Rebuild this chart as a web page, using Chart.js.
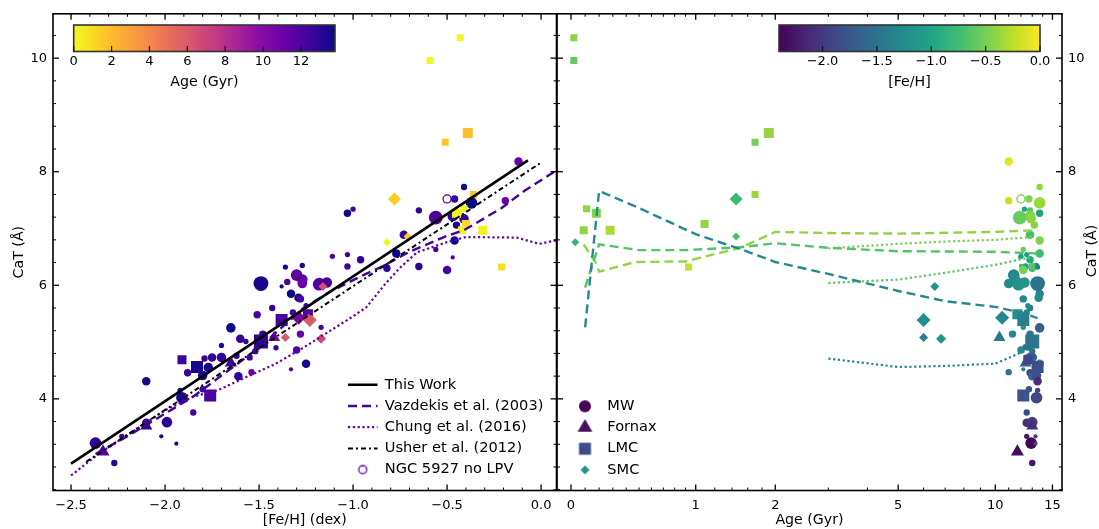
<!DOCTYPE html>
<html><head><meta charset="utf-8">
<style>html,body{margin:0;padding:0;background:#fff;overflow:hidden}canvas{position:absolute;left:0;top:0}</style>
<script src="https://cdn.jsdelivr.net/npm/chart.js@4/dist/chart.umd.js"></script>
</head><body>
<canvas id="left" width="1099" height="529"></canvas>
<canvas id="right" width="1099" height="529"></canvas>
<script>
// ---------- data ----------
const mwFeH=[-0.12,-0.41,-0.19,-0.46,-0.37,-1.0,-0.65,-1.03,-0.56,-0.47,-0.41,-0.45,-0.73,-0.46,-0.56,-0.77,-0.47,-0.96,-1.11,-1.03,-1.27,-1.03,-0.83,-0.82,-0.65,-0.5,-1.3,-1.27,-1.27,-1.35,-1.36,-1.38,-1.49,-1.18,-1.14,-1.33,-1.29,-1.28,-1.43,-1.51,-1.32,-1.25,-1.65,-1.17,-1.48,-1.28,-1.6,-1.57,-1.7,-1.41,-1.3,-1.52,-1.62,-1.55,-1.75,-1.79,-1.7,-1.25,-1.77,-1.33,-1.54,-1.88,-1.61,-1.8,-2.1,-1.8,-1.92,-1.91,-1.85,-2.1,-1.99,-2.23,-2.02,-2.37,-1.94,-2.27,-1.51];
const mwCaT=[8.18,7.73,7.49,7.52,7.45,7.34,7.32,7.27,7.19,7.22,7.17,7.06,6.89,6.79,6.63,6.56,6.49,6.45,6.51,6.54,6.35,6.33,6.34,6.30,6.33,6.27,6.18,6.10,6.03,6.06,6.32,5.98,6.03,6.02,6.05,5.85,5.78,5.76,5.6,5.48,5.52,5.64,5.25,5.26,5.14,5.14,5.06,5.01,4.94,4.90,4.86,4.84,4.76,4.73,4.73,4.71,4.73,4.62,4.55,4.52,4.47,4.46,4.4,4.41,4.31,4.17,4.15,4.02,3.76,3.58,3.59,3.34,3.34,3.22,3.21,2.87,4.91];
const mwAge=[11.0,13.7,11.0,12.7,13.7,12.3,12.8,13.7,11.9,12.8,12.9,13.2,12.8,13.7,12.2,13.7,11.9,12.8,12.0,12.5,13.4,12.4,12.0,13.0,13.0,12.2,11.4,11.5,11.0,12.3,13.5,13.5,13.5,11.8,12.3,13.7,13.6,12.2,12.8,12.0,12.5,12.6,13.7,12.2,12.8,11.3,12.8,13.0,13.0,12.7,12.0,13.0,12.8,12.5,13.0,12.7,13.0,13.7,13.5,12.2,11.0,12.8,13.0,13.4,13.5,12.7,13.5,13.4,12.5,12.5,13.0,12.5,13.3,12.9,13.3,13.0,12.4];
const mwSize=[4,3,3.5,3.5,5.5,2.5,3,3.5,6.5,5,4.5,3.5,4,4,2.5,4,2,3.5,2.5,2.5,2.5,3,2,3.5,3.5,4,5.5,5,4.5,3,2.5,2,7,6,5,4,4,3.5,3,3.5,3,2.5,4.5,2.5,3.5,3.5,4,2.5,2.5,2.5,3.5,3,3,3,4,3,4.5,4,4.5,2,3,3.5,4,4.5,4,3,2.5,5.5,3,4,5,2.5,2,5.5,2,3,3];

const fornaxFeH=[-2.33,-2.1,-1.65,-1.42];
const fornaxCaT=[3.07,3.52,4.63,5.08];
const fornaxAge=[11.7,13.0,12.4,10.3];
const fornaxSize=[7.5,7,7,7];

const lmcFeH=[-0.43,-0.59,-0.39,-0.51,-0.36,-0.41,-0.45,-0.4,-0.42,-0.31,-0.21,-1.24,-1.38,-1.49,-1.91,-1.83,-1.76];
const lmcCaT=[10.36,9.96,8.68,8.52,7.6,7.35,7.27,7.08,6.97,6.97,6.32,5.49,5.39,5.01,4.69,4.56,4.06];
const lmcAge=[0.02,0.02,1.9,1.7,1.7,0.11,0.18,1.09,0.09,0.28,0.93,11.7,12.2,13.0,12.6,13.5,12.2];
const lmcSize=[3.5,3.5,5,3.5,3.5,3.5,4.5,4,4,4.5,3.5,5,6,7,4.5,6,6];

const smcFeH=[-0.78,-0.82,-0.71,-1.23,-1.36,-1.17,-1.16,-1.29];
const smcCaT=[7.52,6.76,6.86,5.39,5.08,5.06,5.98,5.43];
const smcAge=[1.45,0.03,1.45,6.0,6.0,6.8,6.5,10.5];
const smcSize=[6.5,4,4,7,4.5,5,4.5,7];

const ngcFeH=[-0.5], ngcCaT=[7.52], ngcAge=[12];

const thisWorkFeH=[-2.5,-0.07], thisWorkCaT=[2.86,8.2];
const usherFeH=[-2.42,-0.005], usherCaT=[2.89,8.15];
const vazFeH=[-2.37,-2.19,-2.04,-1.85,-1.72,-1.59,-1.5,-1.26,-1.12,-0.97,-0.84,-0.7,-0.5,-0.41,-0.21,-0.09,0.08];
const vazCaT=[3.03,3.36,3.66,4.04,4.36,4.68,4.9,5.61,5.89,6.14,6.34,6.59,6.87,6.97,7.36,7.66,8.02];
const chungFeH=[-2.5,-2.35,-2.19,-2,-1.85,-1.72,-1.55,-1.41,-1.26,-1.03,-0.93,-0.83,-0.75,-0.66,-0.5,-0.4,-0.13,-0.01,0.08];
const chungCaT=[2.65,3.04,3.38,3.8,4.04,4.15,4.41,4.62,4.91,5.39,5.61,6.02,6.31,6.58,6.76,6.85,6.84,6.73,6.79];

const sspAgeA=[0.1,0.2,0.5,1,1.5,2,3,5,7,10,12,13.5];
const sspCaTTeal=[5.26,7.66,7.36,6.9,6.64,6.41,6.2,5.9,5.72,5.62,5.52,5.42];
const sspAgeB=[0.1,0.2,0.5,0.9,1.5,2,3,5,10,13.5];
const sspCaTGreen=[5.96,6.72,6.62,6.62,6.67,6.74,6.66,6.6,6.59,6.56];
const sspAgeC=[0.09,0.18,0.2,0.47,0.9,1.5,2,3,5,10,13.5];
const sspCaTLime=[6.72,6.38,6.24,6.41,6.42,6.66,6.94,6.92,6.91,6.94,6.97];
const dotAge=[3,5,7,10,13];
const dotCaTUpper=[6.65,6.73,6.77,6.8,6.85];
const dotCaTMiddle=[6.04,6.1,6.22,6.36,6.5];
const dotCaTLower=[4.71,4.56,4.58,4.62,4.9];

const xLeftTicks=[-2.5,-2,-1.5,-1,-0.5,0];
const xLeftMinor=[-2.4,-2.3,-2.2,-2.1,-1.9,-1.8,-1.7,-1.6,-1.4,-1.3,-1.2,-1.1,-0.9,-0.8,-0.7,-0.6,-0.4,-0.3,-0.2,-0.1];
const xRightTicks=[0,1,2,5,10,15];
const xRightMinor=[0.1,0.2,0.3,0.4,0.5,0.6,0.7,0.8,0.9,1.2,1.4,1.6,1.8,3,4,6,7,8,9,11,12,13,14];
const yTicks=[4,6,8,10];
const yMinor=[2.4,2.8,3.2,3.6,4.4,4.8,5.2,5.6,6.4,6.8,7.2,7.6,8.4,8.8,9.2,9.6,10.4];
const ageBarTicks=[0,2,4,6,8,10,12];
const fehBarTicks=[-2,-1.5,-1,-0.5,0];

// ---------- colour maps ----------
const plasma=['#0d0887','#41049d','#6a00a8','#8f0da4','#b12a90','#cc4778','#e16462','#f2844b','#fca636','#fcce25','#f0f921'];
const viridis=['#440154','#482475','#414487','#355f8d','#2a788e','#21918c','#22a884','#44bf70','#7ad151','#bddf26','#fde725'];
function cmap(stops,t){t=Math.max(0,Math.min(1,t))*(stops.length-1);const i=Math.min(Math.floor(t),stops.length-2),f=t-i;
  const p=s=>[1,3,5].map(k=>parseInt(s.substr(k,2),16));const a=p(stops[i]),b=p(stops[i+1]);
  return 'rgb('+a.map((v,k)=>Math.round(v+(b[k]-v)*f)).join(',')+')';}
const ageMax=13.8,fehMin=-2.4;
const ageColor=a=>cmap(plasma,1-a/ageMax);
const fehColor=f=>cmap(viridis,(f-fehMin)/(0-fehMin));
const minus=s=>String(s).replace('-','\u2212');
const FONT="'DejaVu Sans'";
const fontPx=13, titlePx=14.2, legendPx=14.6;
const DASH=[9,5], DOT=[2.2,2.6], DASHDOT=[5,3,2,3], DASHW=2.4, DOTW=2.2;

// ---------- asinh age axis ----------
class AsinhScale extends Chart.LinearScale{
  getPixelForValue(v){const a=Math.asinh(this.min),b=Math.asinh(this.max);return this.left+this.width*(Math.asinh(v)-a)/(b-a);}
  getValueForPixel(p){const a=Math.asinh(this.min),b=Math.asinh(this.max);return Math.sinh(a+(p-this.left)/this.width*(b-a));}
}
AsinhScale.id='asinhAge';AsinhScale.defaults=Chart.LinearScale.defaults;
Chart.register(AsinhScale);

Chart.defaults.font.family=FONT;Chart.defaults.font.size=fontPx;Chart.defaults.color='#000';
Chart.defaults.animation=false;

function markerCanvas(style,radius,fill,stroke,lw){
  const c=document.createElement('canvas');c.width=c.height=Math.ceil(radius*2+6);
  const g=c.getContext('2d');g.fillStyle=fill||'rgba(0,0,0,0)';g.strokeStyle=stroke||fill;g.lineWidth=lw||0;
  Chart.helpers.drawPoint(g,{pointStyle:style,rotation:0,borderWidth:lw||0,radius},c.width/2,c.height/2);return c;
}

function scatter(label,xs,ys,cs,size,style,scale,order){
  return {label,data:xs.map((x,i)=>({x,y:ys[i]})),showLine:false,backgroundColor:cs,borderWidth:0,
    pointStyle:style,pointRadius:size.map(r=>r*scale),pointHoverRadius:size.map(r=>r*scale),order};
}
function line(label,xs,ys,color,width,dash,order){
  return {label,data:xs.map((x,i)=>({x,y:ys[i]})),showLine:true,borderColor:color,backgroundColor:color,borderWidth:width,
    borderDash:dash,pointRadius:0,tension:0,order,borderCapStyle:'butt'};
}
const SQ=Math.SQRT2;

function panelPlugin(cfg){return {id:'panel'+cfg.name,
  afterLayout(chart){const l=chart.legend;if(l){l.left=cfg.legendAt[0]-l.options.labels.padding;l.top=cfg.legendAt[1]-l.options.labels.padding;l.right=chart.width;l.bottom=chart.height;}},
  afterDatasetsDraw(chart){
    const c=chart.ctx,a=chart.chartArea,sx=chart.scales.x,sy=chart.scales.y;c.save();
    c.strokeStyle='#000';c.lineWidth=1.6;c.strokeRect(a.left,a.top,a.right-a.left,a.bottom-a.top);
    const tick=(x1,y1,x2,y2)=>{c.beginPath();c.moveTo(x1,y1);c.lineTo(x2,y2);c.stroke();};
    [[cfg.xMajor,6,1.3],[cfg.xMinor,3,1]].forEach(([vals,len,w])=>{c.lineWidth=w;vals.forEach(v=>{const p=sx.getPixelForValue(v);tick(p,a.bottom,p,a.bottom-len);tick(p,a.top,p,a.top+len);});});
    [[yTicks,6,1.3],[yMinor,3,1]].forEach(([vals,len,w])=>{c.lineWidth=w;vals.forEach(v=>{const p=sy.getPixelForValue(v);tick(a.left,p,a.left+len,p);tick(a.right,p,a.right-len,p);});});
    // colour bar
    const b=cfg.bar,g=c.createLinearGradient(b.x0,0,b.x1,0);
    for(let i=0;i<=40;i++)g.addColorStop(i/40,b.color(b.min+(b.max-b.min)*i/40));
    c.fillStyle=g;c.fillRect(b.x0,25,b.x1-b.x0,26.5);
    c.strokeStyle='#333';c.lineWidth=1.6;c.strokeRect(b.x0,25,b.x1-b.x0,26.5);
    c.fillStyle='#000';c.font=fontPx+'px '+FONT;c.textAlign='center';c.textBaseline='middle';c.lineWidth=1.2;c.strokeStyle='#111';
    b.ticks.forEach(v=>{const p=b.x0+(v-b.min)/(b.max-b.min)*(b.x1-b.x0);tick(p,51.5,p,46);c.fillText(b.fmt(v),p,61.5);});
    c.font=titlePx+'px '+FONT;
    c.fillText(b.label,(b.x0+b.x1)/2,82);
    if(cfg.sideTitle){c.save();c.translate(cfg.sideTitle,251);c.rotate(-Math.PI/2);c.fillText('CaT (\u00c5)',0,0);c.restore();}
    c.restore();
  }};}

function axes(cfg){return {
  x:{type:cfg.xType,min:cfg.xmin,max:cfg.xmax,grid:{display:false,drawTicks:false},border:{display:false},
    afterBuildTicks:s=>{s.ticks=cfg.xMajor.map(v=>({value:v}));},
    afterFit:s=>{s.height=38.5;},
    ticks:{autoSkip:false,maxRotation:0,minRotation:0,padding:7.5,callback:v=>cfg.xFmt(v),font:{size:fontPx,family:FONT}},
    title:{display:true,text:cfg.xTitle,padding:{top:0,bottom:0},font:{size:titlePx,family:FONT}}},
  y:{type:'linear',position:cfg.yPos,min:2.386,max:10.781,grid:{display:false,drawTicks:false},border:{display:false},
    afterBuildTicks:s=>{s.ticks=yTicks.map(v=>({value:v}));},
    afterFit:s=>{s.width=cfg.yWidth;},
    ticks:{autoSkip:false,padding:6,callback:v=>String(v),font:{size:fontPx,family:FONT}},
    title:cfg.yPos==='left'?{display:true,text:'CaT (\u00c5)',padding:{top:11,bottom:0},font:{size:titlePx,family:FONT}}:{display:false}}
};}

// ---------- left panel: [Fe/H] vs CaT coloured by age ----------
const vazColor=ageColor(12.4),chungColor=ageColor(11.2);
const leftCfg={name:'L',xType:'linear',xmin:-2.596,xmax:0.082,xMajor:xLeftTicks,xMinor:xLeftMinor,xFmt:v=>minus(v.toFixed(1)),
  xTitle:'[Fe/H] (dex)',yPos:'left',yWidth:53,legendAt:[348,377.5],
  bar:{x0:73.7,x1:335,min:0,max:ageMax,color:ageColor,ticks:ageBarTicks,fmt:v=>String(v),label:'Age (Gyr)'}};
new Chart(document.getElementById('left'),{type:'scatter',
  data:{datasets:[
    line('This Work',thisWorkFeH,thisWorkCaT,'#000',2.6,[],1),
    line('Vazdekis et al. (2003)',vazFeH,vazCaT,vazColor,DASHW,DASH,3),
    line('Chung et al. (2016)',chungFeH,chungCaT,chungColor,DOTW,DOT,4),
    line('Usher et al. (2012)',usherFeH,usherCaT,'#000',2,DASHDOT,2),
    {label:'NGC 5927 no LPV',data:[{x:ngcFeH[0],y:ngcCaT[0]}],showLine:false,backgroundColor:'rgba(0,0,0,0)',borderColor:ageColor(ngcAge[0]),borderWidth:1.3,pointRadius:4,order:5},
    scatter('SMC',smcFeH,smcCaT,smcAge.map(ageColor),smcSize,'rectRot',1,6),
    scatter('LMC',lmcFeH,lmcCaT,lmcAge.map(ageColor),lmcSize,'rect',SQ,7),
    scatter('Fornax',fornaxFeH,fornaxCaT,fornaxAge.map(ageColor),fornaxSize,'triangle',1,8),
    scatter('MW',mwFeH,mwCaT,mwAge.map(ageColor),mwSize,'circle',1.06,9)
  ]},
  options:{responsive:false,devicePixelRatio:1,layout:{padding:{left:0,right:542.5,top:12,bottom:0}},
    scales:axes(leftCfg),
    plugins:{tooltip:{enabled:false},title:{display:false},
      legend:{display:true,position:'chartArea',align:'start',labels:{usePointStyle:true,pointStyleWidth:29.5,padding:6.6,font:{size:legendPx,family:FONT},
        generateLabels:()=>[
          {text:'This Work',strokeStyle:'#000',fillStyle:'#000',lineWidth:2.6,lineDash:[],pointStyle:'line'},
          {text:'Vazdekis et al. (2003)',strokeStyle:vazColor,fillStyle:vazColor,lineWidth:DASHW,lineDash:DASH,pointStyle:'line'},
          {text:'Chung et al. (2016)',strokeStyle:chungColor,fillStyle:chungColor,lineWidth:DOTW,lineDash:DOT,pointStyle:'line'},
          {text:'Usher et al. (2012)',strokeStyle:'#000',fillStyle:'#000',lineWidth:2,lineDash:DASHDOT,pointStyle:'line'},
          {text:'NGC 5927 no LPV',strokeStyle:chungColor,fillStyle:'rgba(0,0,0,0)',lineWidth:0,lineDash:[],pointStyle:markerCanvas('circle',4,'rgba(0,0,0,0)',chungColor,1.3)}
        ]}}}},
  plugins:[panelPlugin(leftCfg)]});

// ---------- right panel: age vs CaT coloured by [Fe/H] ----------
const tealC=fehColor(-1.26),greenC=fehColor(-0.66),limeC=fehColor(-0.4),dotUpC=fehColor(-0.5),dotMidC=fehColor(-0.62),dotLowC=fehColor(-1.3);
const rightCfg={name:'R',xType:'asinhAge',xmin:-0.099,xmax:16.05,xMajor:xRightTicks,xMinor:xRightMinor,xFmt:v=>String(v),
  xTitle:'Age (Gyr)',yPos:'right',yWidth:37,sideTitle:1092,legendAt:[570,399],
  bar:{x0:779,x1:1040,min:fehMin,max:0,color:fehColor,ticks:fehBarTicks,fmt:v=>minus(v.toFixed(1)),label:'[Fe/H]'}};
new Chart(document.getElementById('right'),{type:'scatter',
  data:{datasets:[
    line('Vazdekis low',sspAgeA,sspCaTTeal,tealC,DASHW,DASH,1),
    line('Vazdekis mid',sspAgeB,sspCaTGreen,greenC,DASHW,DASH,2),
    line('Vazdekis high',sspAgeC,sspCaTLime,limeC,DASHW,DASH,3),
    line('Chung upper',dotAge,dotCaTUpper,dotUpC,DOTW,DOT,4),
    line('Chung middle',dotAge,dotCaTMiddle,dotMidC,DOTW,DOT,5),
    line('Chung lower',dotAge,dotCaTLower,dotLowC,DOTW,DOT,6),
    {label:'NGC 5927 no LPV',data:[{x:ngcAge[0],y:ngcCaT[0]}],showLine:false,backgroundColor:'rgba(0,0,0,0)',borderColor:fehColor(ngcFeH[0]),borderWidth:1.3,pointRadius:4,order:7},
    scatter('SMC',smcAge,smcCaT,smcFeH.map(fehColor),smcSize,'rectRot',1,8),
    scatter('LMC',lmcAge,lmcCaT,lmcFeH.map(fehColor),lmcSize,'rect',SQ,9),
    scatter('Fornax',fornaxAge,fornaxCaT,fornaxFeH.map(fehColor),fornaxSize,'triangle',1,10),
    scatter('MW',mwAge,mwCaT,mwFeH.map(fehColor),mwSize,'circle',1.06,11)
  ]},
  options:{responsive:false,devicePixelRatio:1,layout:{padding:{left:557,right:0,top:12,bottom:0}},
    scales:axes(rightCfg),
    plugins:{tooltip:{enabled:false},title:{display:false},
      legend:{display:true,position:'chartArea',align:'start',labels:{usePointStyle:true,pointStyleWidth:30,padding:6.6,font:{size:legendPx,family:FONT},
        generateLabels:()=>[
          {text:'MW',pointStyle:markerCanvas('circle',6,fehColor(-2.37)),fillStyle:'#000',strokeStyle:'#000',lineWidth:0},
          {text:'Fornax',pointStyle:markerCanvas('triangle',8.5,fehColor(-2.3)),fillStyle:'#000',strokeStyle:'#000',lineWidth:0},
          {text:'LMC',pointStyle:markerCanvas('rect',6*SQ,fehColor(-1.85)),fillStyle:'#000',strokeStyle:'#000',lineWidth:0},
          {text:'SMC',pointStyle:markerCanvas('rectRot',4.5,fehColor(-1.2)),fillStyle:'#000',strokeStyle:'#000',lineWidth:0}
        ]}}}},
  plugins:[panelPlugin(rightCfg)]});
</script>
</body></html>
